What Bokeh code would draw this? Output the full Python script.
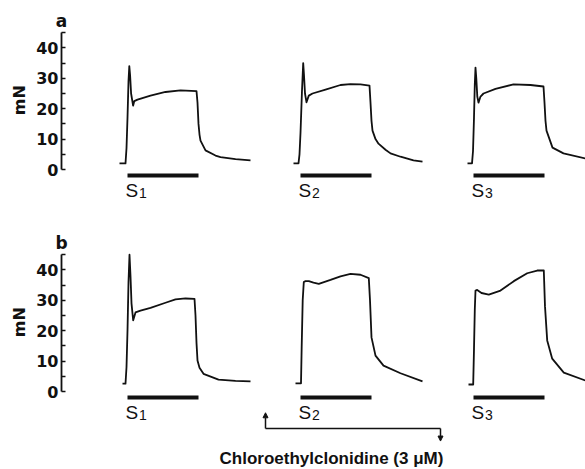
import math
from bokeh.plotting import figure
from bokeh.layouts import column
from bokeh.models import Range1d, FixedTicker, LinearAxis, Arrow, NormalHead
from bokeh.core.properties import value
from bokeh.embed import file_html
from bokeh.resources import INLINE

# ---------------- data ----------------
block_starts = [0, 173, 346]          # start of stimulation periods S1..S3 (s)
stim_duration = 71                    # s
stim_subscripts = ["1", "2", "3"]
drug_on = 138                         # chloroethylclonidine added (s)
drug_off = 313                        # chloroethylclonidine washed (s)
drug_label = "Chloroethylclonidine (3 \u03bcM)"
y_ticks = [0, 5, 10, 15, 20, 25, 30, 35, 40, 45]
y_labels = {0: "0", 5: "", 10: "10", 15: "", 20: "20", 25: "", 30: "30", 35: "", 40: "40", 45: ""}
y_unit = "mN"
panel_letters = ["a", "b"]

# panel a (control) traces: time relative to start of stimulation (s), force (mN)
a_s1_t = [-8, -2, -1, 0, 1, 1.8, 2.6, 3.6, 5.6, 6.8, 10, 23, 38, 53, 69, 70, 71, 72, 73, 78, 88, 93, 108, 123]
a_s1_f = [2, 2, 7, 17, 29, 34, 31, 25, 21, 22.5, 23, 24.3, 25.5, 26, 25.8, 22, 15, 11.5, 9.5, 6.3, 4.6, 4.1, 3.4, 3.0]
a_s2_t = [-7, -2, -1, 0, 1.5, 2.7, 3.5, 4.5, 6, 8.3, 12, 25, 40, 50, 60, 69, 70, 71, 72, 75, 78, 85, 90, 100, 113, 122]
a_s2_f = [2, 2, 5, 12, 26, 35, 31, 25, 22.1, 24.3, 25, 26.3, 27.8, 28.1, 28, 27.6, 22, 16, 12.8, 10, 8.5, 6.5, 5.3, 4.2, 3.0, 2.6]
a_s3_t = [-6, -1.5, -0.5, 0.5, 1.3, 2.0, 2.8, 3.8, 5, 7, 10, 22, 40, 57, 70, 71, 72, 73, 79, 90, 112, 127]
a_s3_f = [2, 2, 6, 17, 28, 33.5, 30, 24, 22, 24, 25, 26.5, 28, 27.8, 27.3, 22, 16, 12.8, 7.2, 5.3, 3.6, 2.8]

# panel b (chloroethylclonidine) traces
b_s1_t = [-5, -2, -1, 0, 1, 2, 3, 4, 5.7, 8, 13, 23, 38, 48, 58, 67, 68, 69, 70, 72, 76, 91, 108, 123]
b_s1_f = [2.6, 2.6, 8, 20, 36, 45, 38, 29, 23.4, 26, 26.6, 27.5, 29.2, 30.3, 30.6, 30.5, 25, 16, 10.2, 7.8, 5.8, 3.9, 3.5, 3.3]
b_s2_t = [-5, 0.5, 1.2, 2.2, 3.3, 5, 8.3, 13, 18.3, 30, 40, 50, 60, 68.3, 69.5, 71, 75, 83, 100, 122]
b_s2_f = [2.7, 2.7, 15, 30, 36, 36.3, 36.3, 35.8, 35.4, 36.7, 37.9, 38.7, 38.4, 37.3, 30, 17.8, 11.8, 8.5, 6, 3.3]
b_s3_t = [-5, -0.3, 0.5, 1.3, 2, 3.7, 8, 15.3, 27, 40.3, 53.7, 63.7, 70.3, 71.5, 73.7, 78.7, 90.3, 112, 127]
b_s3_f = [2.3, 2.3, 14, 27, 33.2, 33.4, 32.4, 31.9, 33.2, 36.3, 38.9, 39.8, 39.8, 28, 16.8, 10.8, 6.2, 3.6, 3.0]

panel_traces = [
    [(a_s1_t, a_s1_f), (a_s2_t, a_s2_f), (a_s3_t, a_s3_f)],
    [(b_s1_t, b_s1_f), (b_s2_t, b_s2_f), (b_s3_t, b_s3_f)],
]

# ---------------- layout ----------------
INK = "#111111"
X_RANGE = (-127, 458)   # 1 px per s, whole figure width
PX = 3.04               # px per mN
AXIS_X = -66            # where the force scale is drawn


def make_panel(idx, height, zero_px):
    y_top = zero_px / PX
    y_bot = (zero_px - height) / PX
    p = figure(width=585, height=height,
               x_range=Range1d(*X_RANGE), y_range=Range1d(y_bot, y_top),
               x_axis_type=None, y_axis_type=None,
               output_backend="svg", toolbar_location=None,
               min_border_left=0, min_border_right=0,
               min_border_top=0, min_border_bottom=0)
    p.outline_line_color = None
    p.background_fill_color = "white"
    p.border_fill_color = "white"

    ax = LinearAxis(ticker=FixedTicker(ticks=y_ticks), bounds=(0, 45),
                    fixed_location=AXIS_X)
    ax.major_label_overrides = y_labels
    ax.major_tick_in = 4
    ax.major_tick_out = 0
    ax.minor_tick_line_color = None
    ax.axis_line_width = 1.8
    ax.axis_line_color = INK
    ax.major_tick_line_width = 1.6
    ax.major_tick_line_color = INK
    ax.major_label_standoff = 3
    ax.major_label_text_font = "DejaVu Sans"
    ax.major_label_text_font_style = "bold"
    ax.major_label_text_font_size = "16px"
    ax.major_label_text_color = INK
    p.add_layout(ax, "left")

    # unit label of the force scale
    p.text(x=[AXIS_X - 42.5], y=[22.8], text=[y_unit], angle=math.pi / 2,
           text_font=value("DejaVu Sans"), text_font_style="bold", text_font_size="16px",
           text_align="center", text_baseline="alphabetic", text_color=INK)
    # panel letter
    p.text(x=[AXIS_X], y=[49.0], text=[panel_letters[idx]],
           text_font=value("DejaVu Sans"), text_font_style="bold", text_font_size="17px",
           text_align="center", text_baseline="alphabetic", text_color=INK)

    for start, (t, f) in zip(block_starts, panel_traces[idx]):
        p.line([start + v for v in t], f, line_color=INK, line_width=1.8, line_join="round")

    # stimulation bars
    p.segment(x0=block_starts, x1=[s + stim_duration for s in block_starts],
              y0=[-2.0] * 3, y1=[-2.0] * 3, line_color=INK, line_width=4)
    p.text(x=[s - 2 for s in block_starts], y=[-6.9] * 3, text=["S"] * 3,
           text_font=value("Liberation Sans"), text_font_size="19px",
           text_baseline="alphabetic", text_align="left", text_color=INK)
    p.text(x=[s + 11.5 for s in block_starts], y=[-7.6] * 3, text=stim_subscripts,
           text_font=value("Liberation Sans"), text_font_size="14px",
           text_baseline="alphabetic", text_align="left", text_color=INK)
    return p


pa = make_panel(0, 205, 169)
pb = make_panel(1, 264, 391 - 205)

# drug application bracket (panel b)
y_top_b, y_mid_b, y_bot_b = -7.0, -12.17, -16.3
pb.segment(x0=[drug_on], x1=[drug_off], y0=[y_mid_b], y1=[y_mid_b], line_color=INK, line_width=1.5)
pb.add_layout(Arrow(x_start=drug_on, y_start=y_mid_b, x_end=drug_on, y_end=y_top_b,
                    line_color=INK, line_width=1.5,
                    end=NormalHead(size=5, fill_color=INK, line_color=INK, line_width=1)))
pb.add_layout(Arrow(x_start=drug_off, y_start=y_mid_b, x_end=drug_off, y_end=y_bot_b,
                    line_color=INK, line_width=1.5,
                    end=NormalHead(size=5, fill_color=INK, line_color=INK, line_width=1)))
pb.text(x=[block_starts[1] + 31], y=[-22.0], text=[drug_label],
        text_font=value("Liberation Sans"), text_font_style="bold", text_font_size="17px",
        text_align="center", text_baseline="alphabetic", text_color=INK)

layout = column(pa, pb, spacing=0)
open("out.html", "w").write(file_html(layout, INLINE))
